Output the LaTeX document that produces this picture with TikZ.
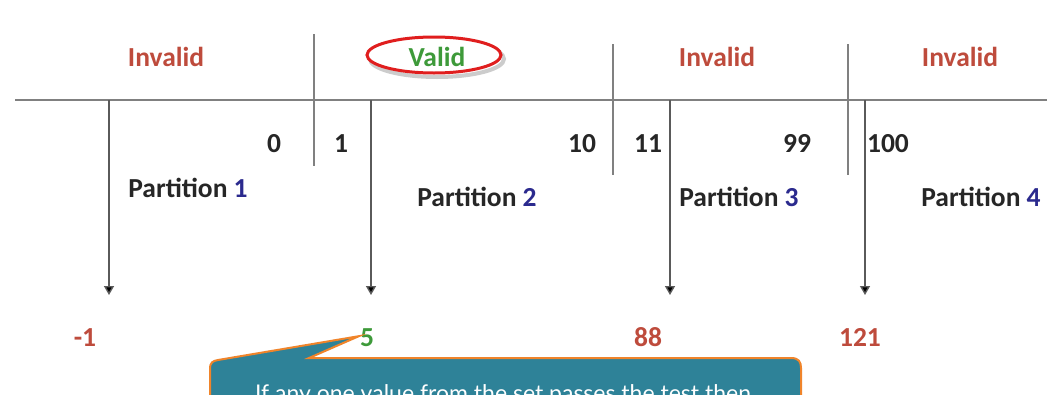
\documentclass[tikz,border=0pt]{standalone}
\usepackage{fontspec}
\setmainfont{Carlito}
\newfontfamily\handfont{Lato}
\usetikzlibrary{arrows.meta}
\definecolor{invred}{HTML}{BE4B3C}
\definecolor{valgreen}{HTML}{3E9A3A}
\definecolor{pblue}{HTML}{2B2A8E}
\definecolor{rulegray}{HTML}{808080}
\definecolor{arrgray}{HTML}{5A5A5A}
\definecolor{ovalred}{HTML}{E01E1E}
\definecolor{tealfill}{HTML}{2E8298}
\definecolor{orangeedge}{HTML}{F0842A}
\begin{document}
\begin{tikzpicture}[x=1pt,y=-1pt,
  lbl/.style={font=\fontsize{27.5}{33}\selectfont\bfseries, inner sep=0pt, anchor=base},
  redlbl/.style={lbl, text=invred},
  grnlbl/.style={lbl, text=valgreen},
  numlbl/.style={lbl, text=black!85},
  partlbl/.style={lbl, text=black!85},
  rule/.style={draw=rulegray, line width=2pt},
  arrline/.style={draw=arrgray, line width=1.4pt, -{Triangle[width=10pt,length=9pt,fill=black]}},
  oval/.style={draw=ovalred, fill=white, line width=3pt},
  ovalshadow/.style={draw=black, opacity=0.2, line width=4pt},
  callout/.style={fill=tealfill, draw=orangeedge, line width=2pt},
  calltext/.style={font=\handfont\fontsize{23}{28}\selectfont, text=white, inner sep=0pt, anchor=base}
]
\useasboundingbox (0,0) rectangle (1047,394);
\fill[white] (0,0) rectangle (1047,394);
\clip (0,0) rectangle (1047,394);

% main horizontal rule
\coordinate (hlL) at (15,100);
\coordinate (hlR) at (1050,100);
\draw[rule] (hlL) -- (hlR);

% separators
\coordinate (s1t) at (314,34);  \coordinate (s1b) at (314,166);
\coordinate (s2t) at (613,44);  \coordinate (s2b) at (613,175);
\coordinate (s3t) at (848,44);  \coordinate (s3b) at (848,175);
\draw[rule] (s1t) -- (s1b);
\draw[rule] (s2t) -- (s2b);
\draw[rule] (s3t) -- (s3b);

% arrows
\coordinate (a1t) at (109,100); \coordinate (a1b) at (109,295);
\coordinate (a2t) at (371,100); \coordinate (a2b) at (371,295);
\coordinate (a3t) at (670,100); \coordinate (a3b) at (670,295);
\coordinate (a4t) at (865,100); \coordinate (a4b) at (865,295);
\draw[arrline] (a1t) -- (a1b);
\draw[arrline] (a2t) -- (a2b);
\draw[arrline] (a3t) -- (a3b);
\draw[arrline] (a4t) -- (a4b);

% top labels
\node[redlbl] (inv1) at (166,66) {Invalid};
\draw[ovalshadow] (437,59) ellipse [x radius=67pt, y radius=18pt];
\draw[oval] (434,55) ellipse [x radius=67pt, y radius=18pt];
\node[grnlbl] (val) at (437,66) {Valid};
\node[redlbl] (inv2) at (717,66) {Invalid};
\node[redlbl] (inv3) at (960,66) {Invalid};

% boundary numbers
\node[numlbl] (n0) at (274,152) {0};
\node[numlbl] (n1) at (341,152) {1};
\node[numlbl] (n10) at (582,152) {10};
\node[numlbl] (n11) at (648,152) {11};
\node[numlbl] (n99) at (797,152) {99};
\node[numlbl] (n100) at (888,152) {100};

% partition labels
\node[partlbl] (p1) at (188,197) {Partition \textcolor{pblue}{1}};
\node[partlbl] (p2) at (477,206) {Partition \textcolor{pblue}{2}};
\node[partlbl] (p3) at (739,206) {Partition \textcolor{pblue}{3}};
\node[partlbl] (p4) at (981,206) {Partition \textcolor{pblue}{4}};

% test values
\node[redlbl] (vm1) at (85,346) {-1};
\node[grnlbl] (v5) at (367,346) {5};
\node[redlbl] (v88) at (648,346) {88};
\node[redlbl] (v121) at (860,346) {121};

% callout
\coordinate (tip) at ([xshift=-1pt,yshift=1pt]v5.west);
\draw[callout] (210,420) -- (210,369) .. controls (210,362) and (213,361) .. (218,360)
  -- (tip) -- (309,358) -- (791,358) .. controls (799,358) and (801,362) .. (801,368)
  -- (801,420) -- cycle;
\node[calltext] (ct) at (503,401) {If any one value from the set passes the test then};
\end{tikzpicture}
\end{document}
